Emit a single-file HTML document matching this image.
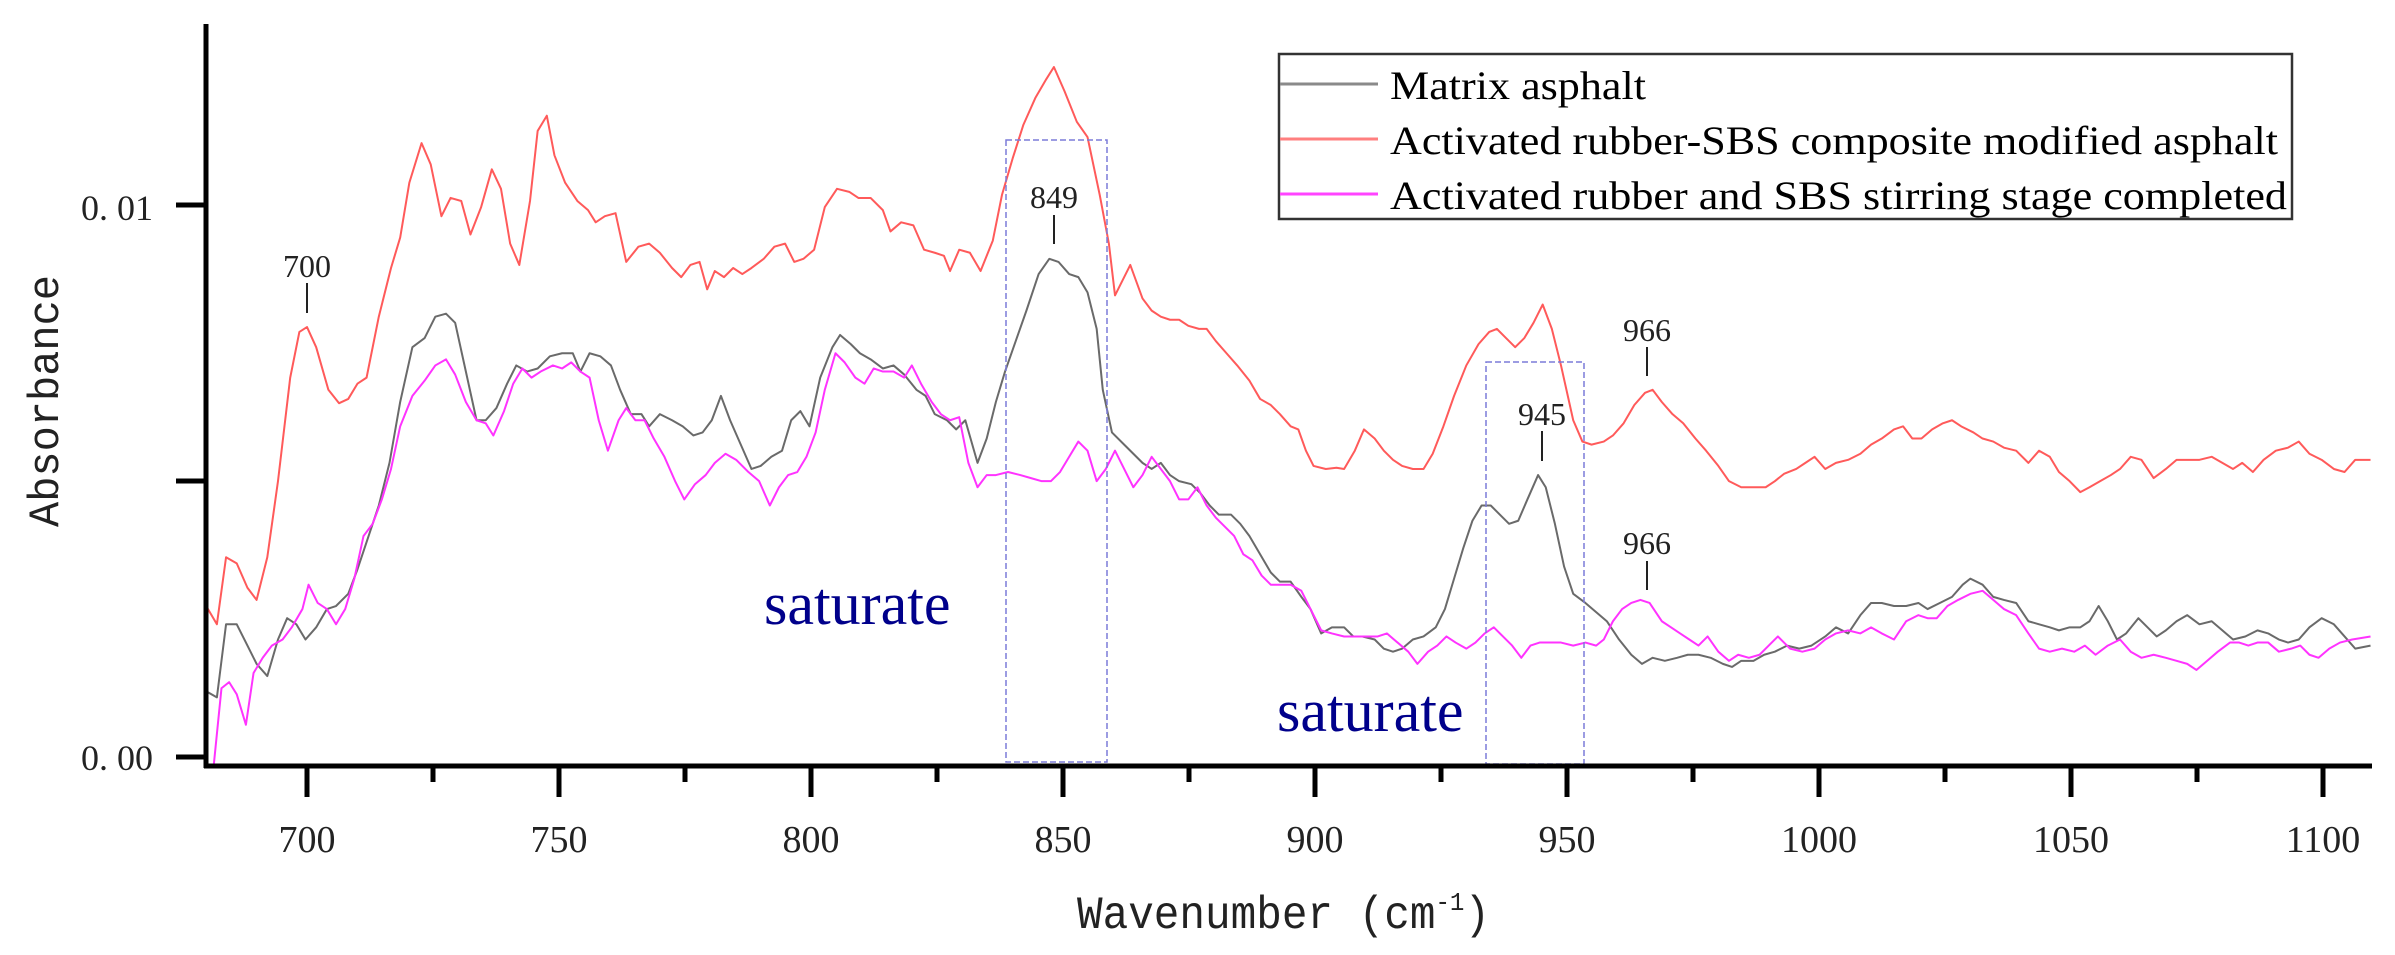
<!DOCTYPE html>
<html><head><meta charset="utf-8"><style>
html,body{margin:0;padding:0;background:#fff;}
svg{display:block;}
</style></head><body>
<svg width="2395" height="955" viewBox="0 0 2395 955" xmlns="http://www.w3.org/2000/svg">
<defs><clipPath id="c"><rect x="208" y="0" width="2187" height="764"/></clipPath></defs>
<g clip-path="url(#c)">
<g transform="scale(1.5274,0.60906)" fill="none" stroke-linejoin="round">
<polyline vector-effect="non-scaling-stroke" stroke="#ff5a5a" stroke-width="2" points="135,995 142,1025 148,915 155,925 162,965 168,985 175,915 182,790 190,620 196,545 201,537 207,570 215,640 222,662 228,655 234,630 240,620 248,520 256,440 262,390 268,300 276,235 282,270 289,355 295,325 302,330 308,385 315,340 322,278 328,310 334,400 340,435 347,330 352,215 358,190 363,255 370,300 378,330 385,345 390,365 396,355 403,350 410,430 418,405 425,400 432,415 440,440 446,455 452,435 458,430 463,475 468,445 474,455 480,440 486,450 492,440 500,425 507,405 514,400 520,430 526,425 533,410 540,340 548,310 556,315 562,325 570,325 578,345 583,380 590,365 598,370 605,410 612,415 618,420 622,445 628,410 635,415 642,445 650,395 656,320 663,260 670,205 678,160 685,130 690,110 697,150 705,200 712,225 720,320 726,400 730,485 735,460 740,435 748,490 754,510 760,520 766,525 772,525 778,535 785,540 790,540 796,560 803,580 810,600 818,625 825,655 832,665 838,680 845,700 850,705 855,740 860,765 868,770 875,768 880,770 887,740 893,705 900,720 906,740 912,755 918,765 925,770 932,770 938,745 945,700 952,650 960,600 968,565 975,545 980,540 986,555 992,570 998,555 1004,530 1010,500 1016,540 1022,600 1030,690 1036,725 1042,730 1050,725 1056,715 1063,695 1070,665 1077,645 1082,640 1088,660 1095,680 1102,695 1110,720 1117,740 1125,765 1132,790 1140,800 1148,800 1156,800 1162,790 1168,778 1176,770 1182,760 1188,750 1195,770 1202,760 1210,755 1218,745 1225,730 1232,720 1240,705 1246,700 1252,720 1258,720 1265,705 1272,695 1278,690 1284,700 1292,710 1298,720 1305,725 1312,735 1320,740 1328,760 1335,740 1342,750 1348,775 1355,790 1362,808 1368,800 1375,790 1382,780 1388,770 1395,750 1402,755 1410,785 1418,770 1425,755 1432,755 1440,755 1448,750 1455,760 1462,770 1468,760 1475,775 1482,755 1490,740 1498,735 1505,725 1512,745 1520,755 1528,770 1535,775 1542,755 1552,755"/>
<polyline vector-effect="non-scaling-stroke" stroke="#6a6a6a" stroke-width="2" points="135,1135 142,1145 148,1025 155,1025 162,1060 168,1090 175,1110 182,1050 188,1015 194,1025 200,1050 207,1030 214,1000 220,995 228,975 234,935 240,890 248,830 255,760 262,660 270,570 278,555 285,520 292,515 298,530 305,610 312,690 318,690 325,670 332,630 338,600 345,610 352,605 360,585 368,580 375,580 380,610 386,580 393,585 400,600 406,640 413,680 420,680 425,700 432,680 440,690 447,700 454,715 460,710 466,690 472,650 478,690 485,730 492,770 498,765 505,750 512,740 518,690 524,675 530,700 537,620 545,570 550,550 557,565 563,580 570,590 578,605 585,600 592,615 600,640 606,650 612,680 620,690 626,705 632,690 640,760 646,720 652,660 658,610 665,560 672,510 680,450 687,425 693,430 700,450 706,455 712,480 718,540 722,640 728,710 736,730 742,745 748,760 754,770 760,760 766,780 772,790 780,795 786,810 792,830 798,845 806,845 812,860 818,880 825,910 832,940 838,955 845,955 852,980 858,1000 865,1040 872,1030 880,1030 886,1045 892,1045 900,1050 906,1065 912,1070 918,1065 925,1050 932,1045 940,1030 946,1000 952,950 958,900 964,855 970,830 976,830 982,845 988,860 994,855 1000,820 1007,780 1012,800 1018,860 1024,930 1030,975 1038,990 1045,1005 1052,1020 1060,1050 1068,1075 1075,1090 1082,1080 1090,1085 1098,1080 1105,1075 1112,1075 1120,1080 1128,1090 1134,1095 1140,1085 1148,1085 1155,1075 1162,1070 1170,1060 1178,1065 1186,1060 1195,1045 1202,1030 1210,1040 1218,1010 1225,990 1232,990 1240,995 1248,995 1256,990 1262,1000 1270,990 1278,980 1285,960 1290,950 1298,960 1305,980 1312,985 1320,990 1328,1020 1335,1025 1342,1030 1348,1035 1355,1030 1362,1030 1368,1020 1374,995 1380,1020 1386,1050 1392,1040 1400,1015 1406,1030 1412,1045 1418,1035 1425,1020 1432,1010 1440,1025 1448,1020 1455,1035 1462,1050 1470,1045 1478,1035 1485,1040 1492,1050 1498,1055 1505,1050 1512,1030 1520,1015 1528,1025 1535,1045 1542,1065 1552,1060"/>
<polyline vector-effect="non-scaling-stroke" stroke="#ff33ff" stroke-width="2" points="140,1255 145,1130 150,1120 155,1140 161,1190 166,1105 172,1080 178,1060 185,1050 191,1030 198,1000 202,960 208,990 214,1000 220,1025 226,1000 232,950 238,880 244,860 250,820 256,770 262,700 270,650 278,625 285,600 292,590 298,615 305,660 312,690 318,695 323,715 330,675 336,630 342,605 348,620 354,610 362,600 368,605 374,595 380,610 386,620 392,690 398,740 405,690 410,670 416,690 422,690 428,720 435,750 442,790 448,820 455,795 462,780 468,760 475,745 482,755 490,775 497,790 504,830 510,800 516,780 522,775 528,750 534,710 540,640 547,580 553,595 560,620 566,630 572,605 578,610 585,610 592,620 597,600 603,630 610,660 616,680 622,690 628,685 634,760 640,800 646,780 652,780 660,775 668,780 675,785 682,790 688,790 694,775 700,750 706,725 712,740 718,790 724,770 730,740 736,770 742,800 748,780 754,750 760,770 766,790 772,820 778,820 784,800 790,830 796,850 802,865 808,880 814,910 820,920 826,945 832,960 838,960 845,960 852,970 858,1000 865,1035 872,1040 880,1045 888,1045 895,1045 902,1045 908,1040 915,1055 922,1070 928,1090 935,1070 941,1060 947,1045 953,1055 960,1065 966,1055 972,1040 978,1030 984,1045 990,1060 996,1080 1002,1060 1008,1055 1015,1055 1022,1055 1030,1060 1038,1055 1045,1060 1050,1050 1056,1020 1062,1000 1068,990 1074,985 1080,990 1088,1020 1094,1030 1100,1040 1106,1050 1112,1060 1118,1045 1125,1070 1132,1085 1138,1075 1145,1080 1152,1075 1158,1060 1164,1045 1172,1065 1180,1070 1188,1065 1195,1050 1202,1040 1210,1035 1218,1040 1225,1030 1232,1040 1240,1050 1248,1020 1256,1010 1262,1015 1268,1015 1275,995 1282,985 1290,975 1298,970 1305,985 1312,1000 1320,1010 1328,1040 1335,1065 1342,1070 1350,1065 1358,1070 1365,1060 1372,1075 1380,1060 1388,1050 1395,1070 1402,1080 1410,1075 1418,1080 1425,1085 1432,1090 1438,1100 1445,1085 1452,1070 1460,1055 1466,1055 1472,1060 1478,1055 1485,1055 1492,1070 1500,1065 1506,1060 1512,1075 1518,1080 1525,1065 1532,1055 1540,1050 1552,1045"/>
</g>
</g>
<g fill="none" stroke="#7c7cd8" stroke-width="1.5" stroke-dasharray="6,3">
<rect x="1006" y="140" width="101" height="622"/>
<rect x="1486" y="362" width="98" height="402"/>
</g>
<g stroke="#000" stroke-width="5" fill="none">
<line x1="206" y1="24" x2="206" y2="768"/>
<line x1="204" y1="766" x2="2372" y2="766"/>
<line x1="176" y1="757" x2="206" y2="757"/>
<line x1="176" y1="481" x2="206" y2="481"/>
<line x1="176" y1="205" x2="206" y2="205"/>
</g>
<g stroke="#000" stroke-width="5">
<line x1="307" y1="766" x2="307" y2="797"/><line x1="433" y1="766" x2="433" y2="782"/>
<line x1="559" y1="766" x2="559" y2="797"/><line x1="685" y1="766" x2="685" y2="782"/>
<line x1="811" y1="766" x2="811" y2="797"/><line x1="937" y1="766" x2="937" y2="782"/>
<line x1="1063" y1="766" x2="1063" y2="797"/><line x1="1189" y1="766" x2="1189" y2="782"/>
<line x1="1315" y1="766" x2="1315" y2="797"/><line x1="1441" y1="766" x2="1441" y2="782"/>
<line x1="1567" y1="766" x2="1567" y2="797"/><line x1="1693" y1="766" x2="1693" y2="782"/>
<line x1="1819" y1="766" x2="1819" y2="797"/><line x1="1945" y1="766" x2="1945" y2="782"/>
<line x1="2071" y1="766" x2="2071" y2="797"/><line x1="2197" y1="766" x2="2197" y2="782"/>
<line x1="2323" y1="766" x2="2323" y2="797"/>
</g>
<g font-family="Liberation Serif, serif" font-size="38" fill="#222" text-anchor="middle">
<text x="307" y="852">700</text><text x="559" y="852">750</text><text x="811" y="852">800</text>
<text x="1063" y="852">850</text><text x="1315" y="852">900</text><text x="1567" y="852">950</text>
<text x="1819" y="852">1000</text><text x="2071" y="852">1050</text><text x="2323" y="852">1100</text>
</g>
<g font-family="Liberation Serif, serif" font-size="36" fill="#222" text-anchor="end">
<text x="153" y="770">0. 00</text><text x="153" y="220">0. 01</text>
</g>
<text x="1077" y="928" font-family="Liberation Mono, monospace" font-size="46" fill="#222" textLength="413" lengthAdjust="spacingAndGlyphs">Wavenumber (cm<tspan font-size="26" dy="-18">-1</tspan><tspan dy="18">)</tspan></text>
<text transform="translate(58,401) rotate(-90)" font-family="Liberation Mono, monospace" font-size="44" fill="#222" text-anchor="middle" textLength="252" lengthAdjust="spacingAndGlyphs">Absorbance</text>
<g font-family="Liberation Serif, serif" font-size="32" fill="#222" text-anchor="middle">
<text x="307" y="277">700</text><text x="1054" y="208">849</text>
<text x="1647" y="341">966</text><text x="1542" y="425">945</text><text x="1647" y="554">966</text>
</g>
<g stroke="#222" stroke-width="2">
<line x1="307" y1="283" x2="307" y2="313"/><line x1="1054" y1="215" x2="1054" y2="244"/>
<line x1="1647" y1="347" x2="1647" y2="376"/><line x1="1542" y1="431" x2="1542" y2="461"/>
<line x1="1647" y1="561" x2="1647" y2="590"/>
</g>
<g font-family="Liberation Serif, serif" font-size="60" fill="#00008b">
<text x="764" y="624">saturate</text><text x="1277" y="731">saturate</text>
</g>
<rect x="1279" y="54" width="1013" height="165" fill="#fff" stroke="#333" stroke-width="2.5"/>
<line x1="1280" y1="84" x2="1378" y2="84" stroke="#8a8a8a" stroke-width="3"/>
<line x1="1280" y1="139" x2="1378" y2="139" stroke="#ff7f7f" stroke-width="3"/>
<line x1="1280" y1="194" x2="1378" y2="194" stroke="#ff44ff" stroke-width="3"/>
<g font-family="Liberation Serif, serif" font-size="40" fill="#000">
<text x="1390" y="99" textLength="256" lengthAdjust="spacingAndGlyphs">Matrix asphalt</text>
<text x="1390" y="154" textLength="888" lengthAdjust="spacingAndGlyphs">Activated rubber-SBS composite modified asphalt</text>
<text x="1390" y="209" textLength="897" lengthAdjust="spacingAndGlyphs">Activated rubber and SBS stirring stage completed</text>
</g>
</svg>
</body></html>
